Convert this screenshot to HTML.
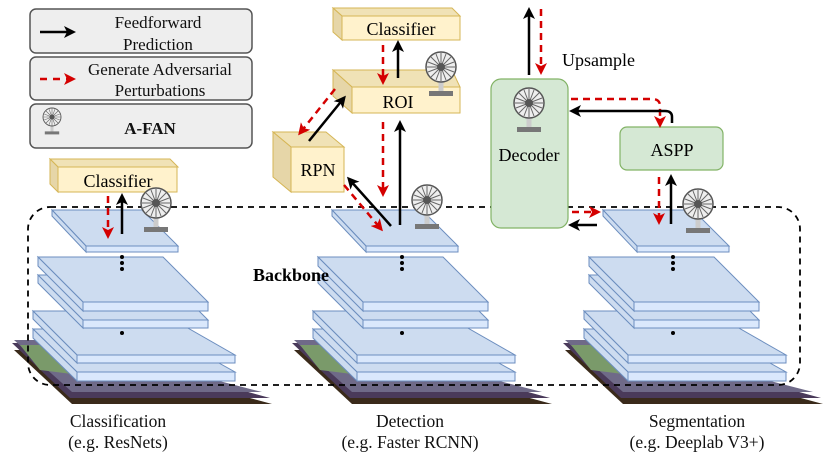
<!DOCTYPE html>
<html><head><meta charset="utf-8"><style>
html,body{margin:0;padding:0;background:#fff;}
svg{display:block;font-family:"Liberation Serif",serif;}
</style></head><body>
<svg width="831" height="456" viewBox="0 0 831 456" xmlns="http://www.w3.org/2000/svg">
<defs>
<marker id="ab" markerWidth="12" markerHeight="12" refX="9" refY="6" orient="auto" markerUnits="userSpaceOnUse"><path d="M0,0 L12,6 L0,12 L3,6 Z" fill="#000"/></marker>
<marker id="ar" markerWidth="12" markerHeight="12" refX="9" refY="6" orient="auto" markerUnits="userSpaceOnUse"><path d="M0,0 L12,6 L0,12 L3,6 Z" fill="#d40000"/></marker>
<g id="fan">
<rect x="-2.5" y="12" width="5" height="13" fill="#ccc"/>
<path d="M-12,24 h24 v5 h-24 z" fill="#777"/>
<circle r="15" fill="#eee" stroke="#555" stroke-width="1.5"/>
<g stroke="#666" stroke-width="1">
<line x1="-14" y1="0" x2="14" y2="0"/><line x1="0" y1="-14" x2="0" y2="14"/>
<line x1="-10" y1="-10" x2="10" y2="10"/><line x1="-10" y1="10" x2="10" y2="-10"/>
<line x1="-13" y1="-5" x2="13" y2="5"/><line x1="-13" y1="5" x2="13" y2="-5"/>
<line x1="-5" y1="-13" x2="5" y2="13"/><line x1="5" y1="-13" x2="-5" y2="13"/>
</g>
<circle r="4" fill="#555"/>
</g>
<g id="stack">
<path d="M14,350 L72,350 L272,404 L72,404 Z" fill="#3a2a1a"/>
<path d="M12,343 L70,343 L270,398 L70,398 Z" fill="#4a3a5a"/>
<path d="M14,340 L60,340 L262,392 L72,392 Z" fill="#6f6a88"/>
<path d="M20,345 L60,345 L120,380 L40,370 Z" fill="#7a9a6a"/>
<g fill="#cddcf0" stroke="#6c8ebf" stroke-width="1">
<path d="M33,329 L158,329 L235,372 L77,372 Z"/><path d="M77,372 L235,372 L235,381 L77,381 Z" fill="#dae8fc"/><path d="M33,329 L77,372 L77,381 L33,338 Z"/>
<path d="M33,311 L158,311 L235,355 L77,355 Z"/><path d="M77,355 L235,355 L235,363 L77,363 Z" fill="#dae8fc"/><path d="M33,311 L77,355 L77,363 L33,319 Z"/>
<path d="M38,275 L163,275 L208,320 L83,320 Z"/><path d="M83,320 L208,320 L208,328 L83,328 Z" fill="#dae8fc"/><path d="M38,275 L83,320 L83,328 L38,283 Z"/>
<path d="M38,257 L163,257 L208,302 L83,302 Z"/><path d="M83,302 L208,302 L208,311 L83,311 Z" fill="#dae8fc"/><path d="M38,257 L83,302 L83,311 L38,266 Z"/>
<path d="M52,210 L142,210 L178,246 L86,246 Z"/><path d="M86,246 L178,246 L178,252 L86,252 Z" fill="#dae8fc"/><path d="M52,210 L86,246 L86,252 L52,216 Z"/>
</g>
<g fill="#000"><circle cx="122" cy="257" r="2"/><circle cx="122" cy="263" r="2"/><circle cx="122" cy="269" r="2"/><circle cx="122" cy="333" r="2"/></g>
</g>
</defs>

<g stroke="#555" stroke-width="1.5" fill="#eeeeee">
<rect x="30" y="9" width="222" height="44" rx="6"/>
<rect x="30" y="57" width="222" height="43" rx="6"/>
<rect x="30" y="104" width="222" height="44" rx="6"/>
</g>
<line x1="40" y1="32" x2="73" y2="32" stroke="#000" stroke-width="2.5" marker-end="url(#ab)"/>
<line x1="40" y1="79" x2="73" y2="79" stroke="#d40000" stroke-width="2.5" stroke-dasharray="7,6" marker-end="url(#ar)"/>
<g font-size="17" text-anchor="middle" fill="#111">
<text x="158" y="28">Feedforward</text><text x="158" y="50">Prediction</text>
<text x="160" y="75">Generate Adversarial</text><text x="160" y="96">Perturbations</text>
<text x="150" y="134" font-weight="bold">A-FAN</text>
</g>
<g transform="translate(52,117) scale(0.6)"><use href="#fan"/></g>

<use href="#stack"/>
<use href="#stack" transform="translate(280,0)"/>
<use href="#stack" transform="translate(551,0)"/>

<rect x="28" y="207" width="772" height="178" rx="22" fill="none" stroke="#000" stroke-width="1.8" stroke-dasharray="6,5"/>
<text x="253" y="281" font-size="18" font-weight="bold">Backbone</text>

<g fill="#fff2cc" stroke="#d6b656" stroke-width="1">
<path d="M50,159 L170,159 L178,167 L58,167 Z" fill="#f0e2b6"/>
<path d="M50,159 L58,167 L58,192 L50,184 Z" fill="#e6d6a8"/>
<rect x="58" y="167" width="119" height="25"/>
</g>
<text x="118" y="187" font-size="18" text-anchor="middle">Classifier</text>
<line x1="108" y1="196" x2="108" y2="236" stroke="#d40000" stroke-width="2.5" stroke-dasharray="7,5" marker-end="url(#ar)"/>
<line x1="122" y1="234" x2="122" y2="196" stroke="#000" stroke-width="2.5" marker-end="url(#ab)"/>
<use href="#fan" transform="translate(156,203)"/>

<g fill="#fff2cc" stroke="#d6b656" stroke-width="1">
<path d="M333,8 L452,8 L460,16 L342,16 Z" fill="#f0e2b6"/>
<path d="M333,8 L342,16 L342,40 L333,32 Z" fill="#e6d6a8"/>
<rect x="342" y="16" width="118" height="24"/>
<path d="M333,70 L452,70 L460,87 L352,87 Z" fill="#f0e2b6"/>
<path d="M333,70 L352,87 L352,113 L333,96 Z" fill="#e6d6a8"/>
<rect x="352" y="87" width="108" height="26"/>
<path d="M273,132 L326,132 L344,147 L291,147 Z" fill="#f0e2b6"/>
<path d="M273,132 L291,147 L291,192 L273,177 Z" fill="#e6d6a8"/>
<rect x="291" y="147" width="53" height="45"/>
</g>
<g font-size="18" text-anchor="middle">
<text x="401" y="35">Classifier</text>
<text x="398" y="108">ROI</text>
<text x="318" y="176">RPN</text>
</g>
<line x1="383" y1="45" x2="383" y2="82" stroke="#d40000" stroke-width="2.5" stroke-dasharray="7,5" marker-end="url(#ar)"/>
<line x1="398" y1="78" x2="398" y2="43" stroke="#000" stroke-width="2.5" marker-end="url(#ab)"/>
<use href="#fan" transform="translate(441,67)"/>
<line x1="335" y1="89" x2="300" y2="133" stroke="#d40000" stroke-width="2.5" stroke-dasharray="7,5" marker-end="url(#ar)"/>
<line x1="309" y1="141" x2="344" y2="98" stroke="#000" stroke-width="2.5" marker-end="url(#ab)"/>
<line x1="383" y1="122" x2="383" y2="194" stroke="#d40000" stroke-width="2.5" stroke-dasharray="7,5" marker-end="url(#ar)"/>
<line x1="400" y1="225" x2="400" y2="123" stroke="#000" stroke-width="2.5" marker-end="url(#ab)"/>
<line x1="344" y1="185" x2="381" y2="229" stroke="#d40000" stroke-width="2.5" stroke-dasharray="7,5" marker-end="url(#ar)"/>
<line x1="391" y1="226" x2="349" y2="179" stroke="#000" stroke-width="2.5" marker-end="url(#ab)"/>
<use href="#fan" transform="translate(427,200)"/>

<rect x="491" y="79" width="77" height="149" rx="10" fill="#d5e8d4" stroke="#82b366" stroke-width="1.2"/>
<rect x="620" y="127" width="103" height="43" rx="7" fill="#d5e8d4" stroke="#82b366" stroke-width="1.2"/>
<text x="529" y="161" font-size="18" text-anchor="middle">Decoder</text>
<text x="672" y="156" font-size="18" text-anchor="middle">ASPP</text>
<text x="562" y="66" font-size="18">Upsample</text>
<use href="#fan" transform="translate(529,103)"/>
<line x1="529" y1="75" x2="529" y2="10" stroke="#000" stroke-width="2.5" marker-end="url(#ab)"/>
<line x1="541" y1="9" x2="541" y2="72" stroke="#d40000" stroke-width="2.5" stroke-dasharray="7,5" marker-end="url(#ar)"/>
<path d="M571,99 L652,99 Q660,99 660,106 L660,125" fill="none" stroke="#d40000" stroke-width="2.5" stroke-dasharray="7,5" marker-end="url(#ar)"/>
<path d="M672,123 L672,117 Q672,111 665,111 L572,111" fill="none" stroke="#000" stroke-width="2.5" marker-end="url(#ab)"/>
<line x1="659" y1="177" x2="659" y2="222" stroke="#d40000" stroke-width="2.5" stroke-dasharray="7,5" marker-end="url(#ar)"/>
<line x1="671" y1="224" x2="671" y2="177" stroke="#000" stroke-width="2.5" marker-end="url(#ab)"/>
<line x1="572" y1="212" x2="598" y2="212" stroke="#d40000" stroke-width="2.5" stroke-dasharray="7,5" marker-end="url(#ar)"/>
<line x1="597" y1="225" x2="571" y2="225" stroke="#000" stroke-width="2.5" marker-end="url(#ab)"/>
<use href="#fan" transform="translate(698,204)"/>

<g font-size="17.5" text-anchor="middle" fill="#111">
<text x="118" y="427">Classification</text><text x="118" y="448">(e.g. ResNets)</text>
<text x="410" y="427">Detection</text><text x="410" y="448">(e.g. Faster RCNN)</text>
<text x="697" y="427">Segmentation</text><text x="697" y="448">(e.g. Deeplab V3+)</text>
</g>
</svg>
</body></html>
